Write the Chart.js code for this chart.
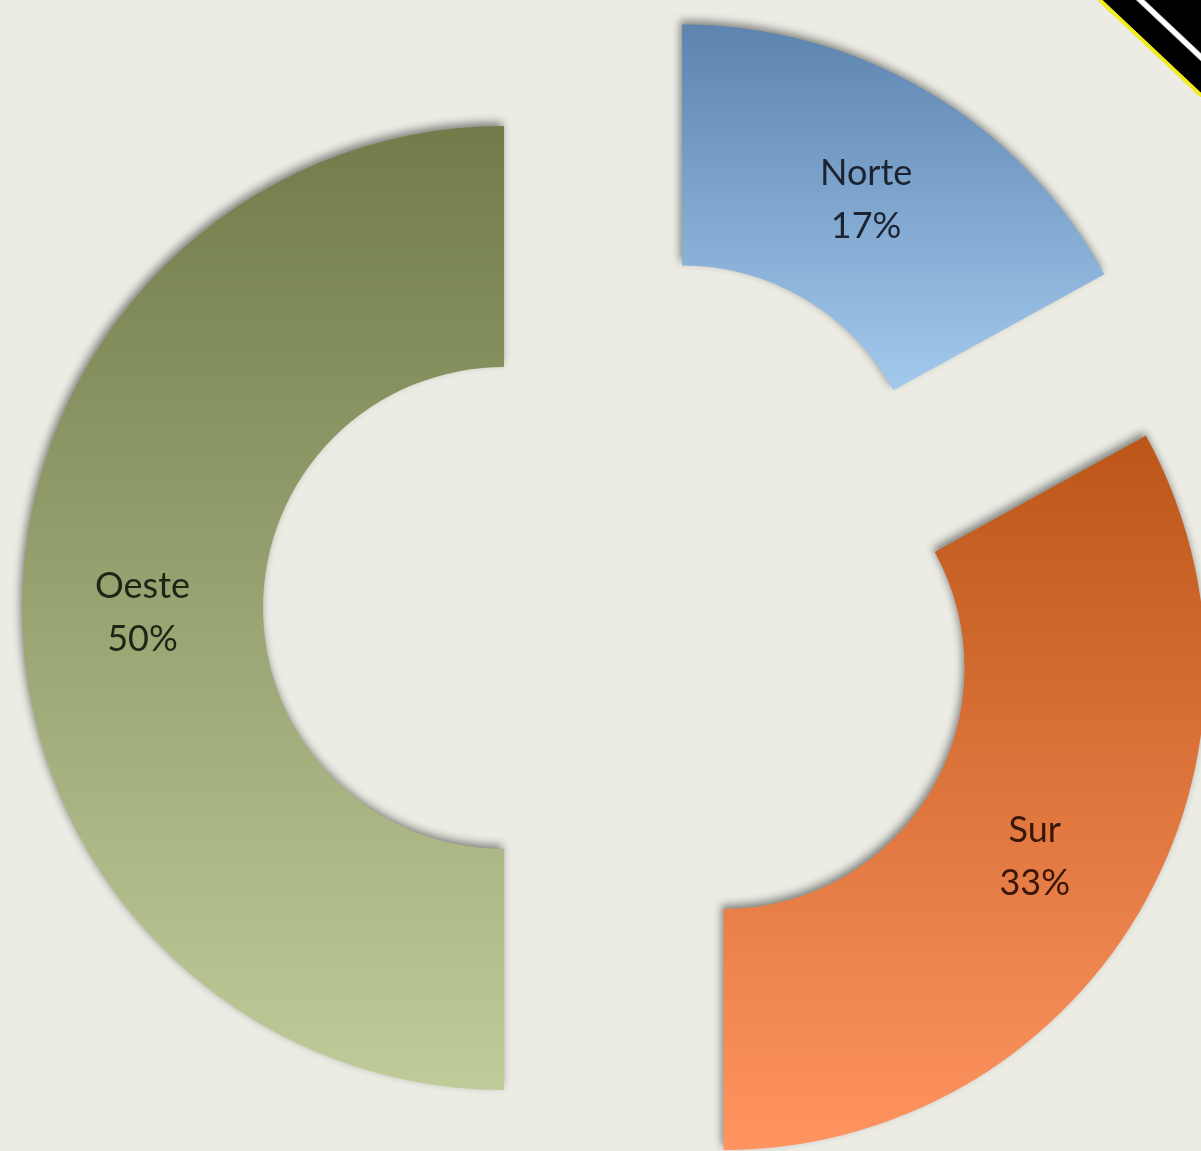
<!DOCTYPE html>
<html>
<head>
<meta charset="utf-8">
<script src="https://cdn.jsdelivr.net/npm/chart.js@4.4.1/dist/chart.umd.min.js"></script>
<style>
  html, body { margin: 0; padding: 0; background: #ECECE5; overflow: hidden; }
  #wrap { position: relative; width: 1201px; height: 1151px; }
  #esquina {
    position: absolute; left: 1098px; top: 0; width: 103px; height: 97px;
    background: linear-gradient(to bottom left, #000 0%, #000 27%, #fff 28%, #fff 31%, #000 32%, #000 47.5%, #f3ea1c 48%, #f3ea1c 50%, rgba(236,236,229,0) 51%);
  }
</style>
</head>
<body>
<div id="wrap">
  <canvas id="grafico" width="1201" height="1151"></canvas>
  <div id="esquina"></div>
</div>
<script>
const regiones = ['Norte', 'Sur', 'Oeste'];
const valores = [17, 33, 50];

// colores: parte alta (oscura) y parte baja (clara) de cada porción
const coloresOscuros = ['#5C84AF', '#BC5618', '#717C4A'];
const coloresClaros = ['#A3C9ED', '#FF9461', '#C0CB9A'];
const coloresTexto = ['#1B2430', '#3A150A', '#1F2414'];

function limitesY(arc) {
    let minY = Infinity, maxY = -Infinity;
    for (let k = 0; k <= 40; k++) {
        const a = arc.startAngle + (arc.endAngle - arc.startAngle) * k / 40;
        [arc.innerRadius, arc.outerRadius].forEach(r => {
            const y = arc.y + Math.sin(a) * r;
            minY = Math.min(minY, y);
            maxY = Math.max(maxY, y);
        });
    }
    return [minY, maxY];
}

// separa las porciones del centro y les pone el degradado
const separar = {
    id: 'separar',
    afterDatasetsUpdate(chart, args, opts) {
        const meta = chart.getDatasetMeta(0);
        meta.data.forEach((arc, i) => {
            const mid = (arc.startAngle + arc.endAngle) / 2;
            arc.x += Math.cos(mid) * opts.distancia;
            arc.y += Math.sin(mid) * opts.distancia;
            const [y0, y1] = limitesY(arc);
            const grad = chart.ctx.createLinearGradient(0, y0, 0, y1);
            grad.addColorStop(0, coloresOscuros[i]);
            grad.addColorStop(1, coloresClaros[i]);
            arc.options = Object.assign({}, arc.options, { backgroundColor: grad });
        });
    },
    beforeDatasetsDraw(chart, args, opts) {
        const ctx = chart.ctx;
        ctx.save();
        ctx.shadowColor = 'rgba(0,0,0,0.45)';
        ctx.shadowBlur = 9;
        ctx.shadowOffsetX = -2;
        ctx.shadowOffsetY = -4;
    },
    afterDatasetsDraw(chart) {
        chart.ctx.restore();
    }
};

const etiquetas = {
    id: 'etiquetas',
    afterDatasetsDraw(chart, args, opts) {
        const ctx = chart.ctx;
        const meta = chart.getDatasetMeta(0);
        const total = valores.reduce((a, b) => a + b, 0);
        ctx.save();
        ctx.font = opts.font;
        ctx.textAlign = 'center';
        ctx.textBaseline = 'middle';
        meta.data.forEach((arc, i) => {
            const p = arc.tooltipPosition();
            const y = p.y + opts.bajar;
            ctx.fillStyle = coloresTexto[i];
            ctx.fillText(regiones[i], p.x, y - opts.interlinea / 2);
            ctx.fillText(Math.round(valores[i] / total * 100) + '%', p.x, y + opts.interlinea / 2);
        });
        ctx.restore();
    }
};

new Chart(document.getElementById('grafico'), {
    type: 'doughnut',
    data: {
        labels: regiones,
        datasets: [{
            data: valores,
            backgroundColor: coloresOscuros,
            borderWidth: 0
        }]
    },
    options: {
        responsive: false,
        animation: false,
        events: [],
        radius: 482,
        cutout: '50%',
        layout: { padding: { left: 43, top: 65, right: 0, bottom: 0 } },
        plugins: {
            legend: { display: false },
            tooltip: { enabled: false },
            separar: { distancia: 118 },
            etiquetas: { font: '36px Lato, "Open Sans", sans-serif', interlinea: 53, bajar: 5 }
        }
    },
    plugins: [separar, etiquetas]
});
</script>
</body>
</html>
